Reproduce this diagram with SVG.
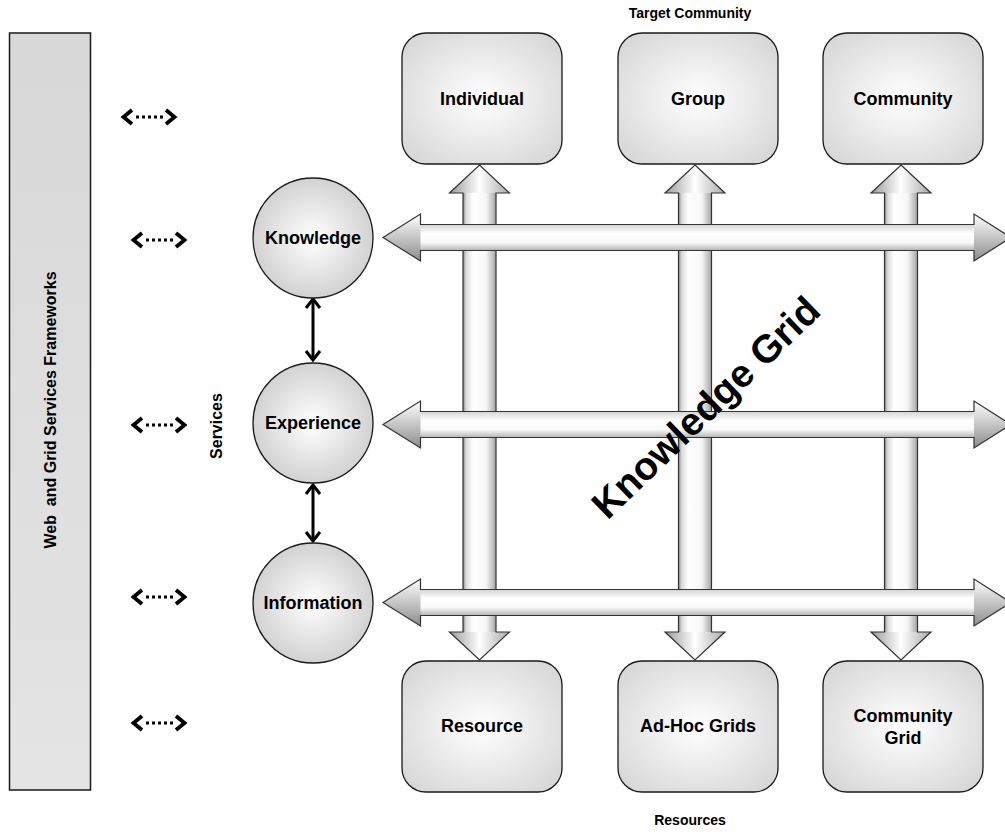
<svg xmlns="http://www.w3.org/2000/svg" xmlns:xlink="http://www.w3.org/1999/xlink" width="1005" height="832" viewBox="0 0 1005 832">
<style>
.t{font-family:"Liberation Sans",Arial,Helvetica,sans-serif;font-weight:bold;fill:#000;text-anchor:middle}
.f18{font-size:18px}
.f16{font-size:16px}
.f14{font-size:14px}
.box{fill:url(#gBox);stroke:#1a1a1a;stroke-width:1.3}
.circ{fill:url(#gCirc);stroke:#1a1a1a;stroke-width:1.3}
.outl{fill:none;stroke:#333;stroke-width:1.2;stroke-linejoin:miter}
.chev{fill:none;stroke:#000;stroke-width:3.8;stroke-linejoin:miter;stroke-linecap:butt}
.dots{stroke:#000;stroke-width:3;stroke-dasharray:3 3}
.blk{stroke:#000;stroke-width:3;fill:none}
</style>
<defs>
<radialGradient id="gBox" cx="0.5" cy="0.5" r="0.62">
<stop offset="0" stop-color="#ffffff"/>
<stop offset="1" stop-color="#d8d8d8"/>
</radialGradient>
<radialGradient id="gCirc" cx="0.5" cy="0.5" r="0.5">
<stop offset="0" stop-color="#ffffff"/>
<stop offset="1" stop-color="#d2d2d2"/>
</radialGradient>
<linearGradient id="gSide" x1="0" y1="0" x2="0" y2="1">
<stop offset="0" stop-color="#d8d8d8"/>
<stop offset="1" stop-color="#e4e4e4"/>
</linearGradient>
<linearGradient id="gV" x1="0" y1="0" x2="1" y2="0">
<stop offset="0" stop-color="#8c8c8c"/>
<stop offset="0.1" stop-color="#dcdcdc"/>
<stop offset="0.3" stop-color="#ffffff"/>
<stop offset="0.7" stop-color="#f6f6f6"/>
<stop offset="1" stop-color="#a4a4a4"/>
</linearGradient>
<linearGradient id="gH" x1="0" y1="0" x2="0" y2="1">
<stop offset="0" stop-color="#d4d4d4"/>
<stop offset="0.35" stop-color="#ffffff"/>
<stop offset="0.7" stop-color="#f8f8f8"/>
<stop offset="1" stop-color="#b4b4b4"/>
</linearGradient>
<linearGradient id="gHV" x1="0" y1="0" x2="1" y2="0">
<stop offset="0" stop-color="#999999"/>
<stop offset="0.5" stop-color="#ffffff"/>
<stop offset="1" stop-color="#a8a8a8"/>
</linearGradient>
<linearGradient id="gHH" x1="0" y1="0" x2="0" y2="1">
<stop offset="0" stop-color="#ffffff"/>
<stop offset="1" stop-color="#8c8c8c"/>
</linearGradient>
<g id="varrow">
<rect x="-16.5" y="192" width="33" height="441" fill="url(#gV)"/>
<polygon points="0,165 30,193 -30,193" fill="url(#gHV)"/>
<polygon points="-30,632 30,632 0,660" fill="url(#gHV)"/>
<path class="outl" d="M0,165 L30,193 L16.5,193 L16.5,632 L30,632 L0,660 L-30,632 L-16.5,632 L-16.5,193 L-30,193 Z"/>
</g>
<g id="harrow">
<rect x="420" y="-13" width="554.5" height="26" fill="url(#gH)"/>
<polygon points="383,0 420.5,-23.5 420.5,23.5" fill="url(#gHH)"/>
<polygon points="974,-23.5 1011,0 974,23.5" fill="url(#gHH)"/>
<path class="outl" d="M383,0 L420.5,-23.5 L420.5,-13 L974,-13 L974,-23.5 L1011,0 L974,23.5 L974,13 L420.5,13 L420.5,23.5 Z"/>
</g>
<g id="dda">
<polyline class="chev" points="10,-7 1.5,0 10,7"/>
<line class="dots" x1="14" y1="0" x2="42" y2="0"/>
<polyline class="chev" points="44,-7 52.5,0 44,7"/>
</g>
</defs>

<rect width="1005" height="832" fill="#ffffff"/>

<g id="frameworks">
<rect x="9.5" y="33" width="81" height="757" fill="url(#gSide)" stroke="#1a1a1a" stroke-width="1.5"/>
<text class="t f16" xml:space="preserve" transform="translate(56,410) rotate(-90)">Web  and Grid Services Frameworks</text>
</g>

<text class="t f14" x="690" y="18">Target Community</text>
<text class="t f14" x="690" y="825">Resources</text>
<text class="t f16" transform="translate(222,426) rotate(-90)">Services</text>

<g id="connectors">
<use xlink:href="#varrow" href="#varrow" transform="translate(479.5,0)"/>
<use xlink:href="#varrow" href="#varrow" transform="translate(695,0)"/>
<use xlink:href="#varrow" href="#varrow" transform="translate(901,0)"/>
<use xlink:href="#harrow" href="#harrow" transform="translate(0,237.5)"/>
<use xlink:href="#harrow" href="#harrow" transform="translate(0,424.5)"/>
<use xlink:href="#harrow" href="#harrow" transform="translate(0,602.5)"/>
<use xlink:href="#dda" href="#dda" transform="translate(122,117)"/>
<use xlink:href="#dda" href="#dda" transform="translate(132,240)"/>
<use xlink:href="#dda" href="#dda" transform="translate(132,425)"/>
<use xlink:href="#dda" href="#dda" transform="translate(132,597)"/>
<use xlink:href="#dda" href="#dda" transform="translate(132,723)"/>
<line class="blk" x1="313" y1="300" x2="313" y2="359"/>
<polyline class="blk" points="306,308 313,299 320,308"/>
<polyline class="blk" points="306,351 313,360 320,351"/>
<line class="blk" x1="313" y1="486" x2="313" y2="540"/>
<polyline class="blk" points="306,494 313,485 320,494"/>
<polyline class="blk" points="306,532 313,541 320,532"/>
</g>

<g id="node-individual">
<rect class="box" x="402" y="33" width="160" height="131" rx="24"/>
<text class="t f18" x="482" y="105">Individual</text>
</g>
<g id="node-group">
<rect class="box" x="618" y="33" width="160" height="131" rx="24"/>
<text class="t f18" x="698" y="105">Group</text>
</g>
<g id="node-community">
<rect class="box" x="823" y="33" width="160" height="131" rx="24"/>
<text class="t f18" x="903" y="105">Community</text>
</g>
<g id="node-resource">
<rect class="box" x="402" y="661" width="160" height="131" rx="24"/>
<text class="t f18" x="482" y="732">Resource</text>
</g>
<g id="node-adhoc">
<rect class="box" x="618" y="661" width="160" height="131" rx="24"/>
<text class="t f18" x="698" y="732">Ad-Hoc Grids</text>
</g>
<g id="node-communitygrid">
<rect class="box" x="823" y="661" width="160" height="131" rx="24"/>
<text class="t f18" x="903" y="722">Community</text>
<text class="t f18" x="903" y="744">Grid</text>
</g>

<g id="node-knowledge">
<circle class="circ" cx="313" cy="238" r="60"/>
<text class="t f18" x="313" y="244">Knowledge</text>
</g>
<g id="node-experience">
<circle class="circ" cx="313" cy="423" r="60"/>
<text class="t f18" x="313" y="429">Experience</text>
</g>
<g id="node-information">
<circle class="circ" cx="313" cy="603" r="60"/>
<text class="t f18" x="313" y="609">Information</text>
</g>

<text class="t" font-size="39" transform="translate(715,417) rotate(-44)">Knowledge Grid</text>
</svg>
